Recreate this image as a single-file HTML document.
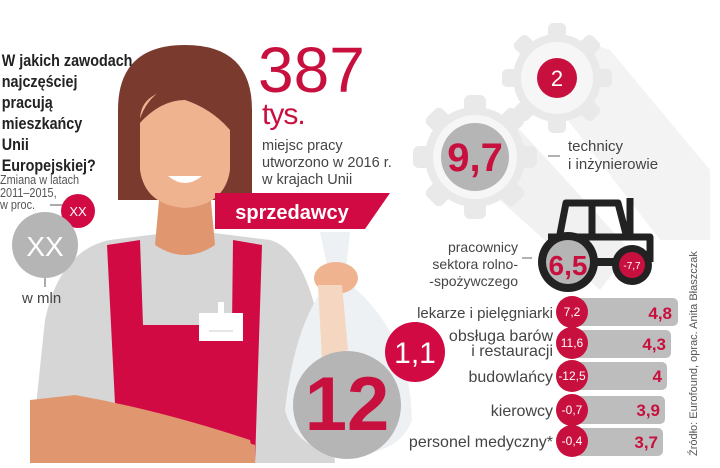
<!DOCTYPE html>
<html><head><meta charset="utf-8"><style>
body{margin:0;background:#fff}
svg text{font-family:"Liberation Sans",sans-serif}
</style></head><body>
<svg width="720" height="463" viewBox="0 0 720 463" xmlns="http://www.w3.org/2000/svg">
<!-- gear shadows -->
<polygon points="580,40 610,50 710,170 710,240 660,240 560,110" fill="#f3f3f3"/>
<polygon points="480,110 520,130 630,250 600,290 500,200" fill="#f1f1f1"/>
<!-- gear 1 -->
<g transform="translate(557,78)" fill="#e9e9e9">
<circle r="44"/>
<g id="t1"><rect x="-9" y="-55" width="18" height="16" rx="5"/></g>
<use href="#t1" transform="rotate(45)"/><use href="#t1" transform="rotate(90)"/><use href="#t1" transform="rotate(135)"/><use href="#t1" transform="rotate(180)"/><use href="#t1" transform="rotate(225)"/><use href="#t1" transform="rotate(270)"/><use href="#t1" transform="rotate(315)"/>
<circle r="36" fill="#f6f6f6"/>
<circle r="20" fill="#c8103e"/>
<text y="8" text-anchor="middle" font-size="22" fill="#fff">2</text>
</g>
<!-- gear 2 -->
<g transform="translate(475,157)" fill="#e9e9e9">
<circle r="50"/>
<g id="t2"><rect x="-11" y="-62" width="22" height="18" rx="6"/></g>
<use href="#t2" transform="rotate(45)"/><use href="#t2" transform="rotate(90)"/><use href="#t2" transform="rotate(135)"/><use href="#t2" transform="rotate(180)"/><use href="#t2" transform="rotate(225)"/><use href="#t2" transform="rotate(270)"/><use href="#t2" transform="rotate(315)"/>
<circle r="42" fill="#f6f6f6"/>
<circle r="34" fill="#b5b5b5"/>
<text y="14" text-anchor="middle" font-size="40" font-weight="bold" fill="#c8103e">9,7</text>
</g>
<line x1="548" y1="156" x2="560" y2="156" stroke="#666"/>
<text x="568" y="151" font-size="15" fill="#444">technicy</text>
<text x="568" y="169" font-size="15" fill="#444">i inżynierowie</text>
<!-- tractor -->
<g fill="none" stroke="#222" stroke-width="7" stroke-linejoin="round">
<path d="M560,234 L566,203 L618,203 L626,234"/>
<line x1="592" y1="203" x2="592" y2="234"/>
<line x1="630" y1="198" x2="630" y2="234"/>
<path d="M548,237 L650,237 L650,262"/>
</g>
<rect x="548" y="234" width="104" height="6" fill="#222"/>
<circle cx="568" cy="262" r="30" fill="#222"/>
<circle cx="568" cy="262" r="22" fill="#b5b5b5"/>
<text x="568" y="275" text-anchor="middle" font-size="28" font-weight="bold" fill="#c8103e">6,5</text>
<rect x="590" y="258" width="30" height="8" fill="#222"/>
<circle cx="632" cy="265" r="20" fill="#222"/>
<circle cx="632" cy="265" r="13" fill="#c8103e"/>
<text x="632" y="269" text-anchor="middle" font-size="10" fill="#fff">-7,7</text>
<line x1="522" y1="258" x2="532" y2="258" stroke="#666"/>
<text text-anchor="end" font-size="14" fill="#444"><tspan x="518" y="252">pracownicy</tspan><tspan x="518" y="269">sektora rolno-</tspan><tspan x="518" y="286">-spożywczego</tspan></text>
<!-- rows -->
<g font-size="15" fill="#444" text-anchor="end">
<rect x="575" y="298" width="103" height="28" rx="5" fill="#bdbdbd"/>
<rect x="575" y="330" width="96" height="28" rx="5" fill="#bdbdbd"/>
<rect x="575" y="362" width="92" height="28" rx="5" fill="#bdbdbd"/>
<rect x="575" y="396" width="90" height="28" rx="5" fill="#bdbdbd"/>
<rect x="575" y="428" width="88" height="28" rx="5" fill="#bdbdbd"/>
<circle cx="572" cy="312" r="16" fill="#c8103e"/>
<circle cx="572" cy="343" r="16" fill="#c8103e"/>
<circle cx="572" cy="376" r="16" fill="#c8103e"/>
<circle cx="572" cy="410" r="16" fill="#c8103e"/>
<circle cx="572" cy="441" r="16" fill="#c8103e"/>
<text x="553" y="318">lekarze i pielęgniarki</text>
<text x="553" y="341" font-size="16">obsługa barów</text>
<text x="553" y="356" font-size="16">i restauracji</text>
<text x="553" y="382" font-size="16">budowlańcy</text>
<text x="553" y="416" font-size="16">kierowcy</text>
<text x="553" y="447" font-size="16">personel medyczny*</text>
<g font-size="12" fill="#fff" text-anchor="middle">
<text x="572" y="316">7,2</text><text x="572" y="347">11,6</text><text x="572" y="380">-12,5</text><text x="572" y="414">-0,7</text><text x="572" y="445">-0,4</text>
</g>
<g font-size="17" font-weight="bold" fill="#c8103e">
<text x="672" y="319">4,8</text><text x="666" y="350">4,3</text><text x="662" y="382">4</text><text x="660" y="416">3,9</text><text x="658" y="448">3,7</text>
</g>
</g>
<text transform="translate(697,456) rotate(-90)" font-size="11" fill="#555">Źródło: Eurofound, oprac. Anita Błaszczak</text>

<!-- woman -->
<path d="M30,463 L45,320 Q60,250 110,240 L190,230 L270,240 Q305,250 320,330 L335,463 Z" fill="#d6d6d6"/>
<path d="M118,200 L118,110 Q118,45 185,45 Q252,45 252,110 L252,200 Z" fill="#7a3a2e"/>
<path d="M160,190 L210,190 L215,245 Q185,265 155,245 Z" fill="#e0966e"/>
<path d="M140,120 Q140,90 185,88 Q230,90 230,120 L230,170 Q225,205 185,208 Q145,205 140,170 Z" fill="#efb38f"/>
<path d="M138,125 Q150,80 200,82 Q238,90 234,135 Q215,110 185,100 Q160,100 138,125 Z" fill="#7a3a2e"/>
<path d="M168,176 Q185,190 202,176 Z" fill="#fff"/>
<path d="M107,245 L140,240 L143,325 L232,325 L233,240 L262,245 L255,463 L118,463 Z" fill="#d10a44"/>
<rect x="199" y="313" width="44" height="28" fill="#fff"/>
<rect x="218" y="302" width="6" height="12" fill="#fff"/>
<line x1="209" y1="331" x2="233" y2="331" stroke="#ccc"/>
<path d="M30,400 L75,395 Q160,410 250,440 L255,463 L30,463 Z" fill="#e0966e"/>
<path d="M170,445 Q210,430 255,445 L255,463 L170,463 Z" fill="#e0966e"/>
<!-- bag -->
<path d="M320,232 L350,232 L345,280 Q410,330 412,420 Q400,455 345,455 Q295,450 285,410 Q295,320 330,280 Z" fill="#eef1f4"/>
<ellipse cx="336" cy="278" rx="22" ry="16" fill="#efb38f"/>
<path d="M318,285 L342,285 L348,350 L322,360 Z" fill="#f5d6c0"/>
<circle cx="347" cy="405" r="54" fill="#b5b5b5"/>
<text x="347" y="430" text-anchor="middle" font-size="76" font-weight="bold" fill="#c8103e">12</text>
<circle cx="415" cy="352" r="30" fill="#d10a44"/>
<text x="415" y="363" text-anchor="middle" font-size="30" fill="#fff">1,1</text>
<!-- banner -->
<polygon points="215,193 390,193 365,229 215,229" fill="#d10a44"/>
<text x="292" y="219" text-anchor="middle" font-size="20" font-weight="bold" fill="#fff">sprzedawcy</text>
<!-- 387 -->
<text x="258" y="92" font-size="64" fill="#c8103e">387</text>
<text x="262" y="124" font-size="30" fill="#c8103e" letter-spacing="-1">tys.</text>
<text font-size="14.5" fill="#444"><tspan x="262" y="150">miejsc pracy</tspan><tspan x="262" y="167">utworzono w 2016 r.</tspan><tspan x="262" y="184">w krajach Unii</tspan></text>
<!-- left text -->
<g transform="scale(0.87,1)">
<text font-size="16.5" font-weight="bold" fill="#222"><tspan x="2" y="66">W jakich zawodach</tspan><tspan x="2" y="87">najczęściej</tspan><tspan x="2" y="108">pracują</tspan><tspan x="2" y="129">mieszkańcy</tspan><tspan x="2" y="150">Unii</tspan><tspan x="2" y="171">Europejskiej?</tspan></text>
<text font-size="12.5" fill="#555"><tspan x="0" y="184">Zmiana w latach</tspan><tspan x="0" y="197">2011–2015,</tspan><tspan x="0" y="209">w proc.</tspan></text>
</g>
<line x1="50" y1="205" x2="62" y2="205" stroke="#555"/>
<circle cx="78" cy="211" r="17" fill="#d10a44"/>
<text x="78" y="216" text-anchor="middle" font-size="13" fill="#fff">XX</text>
<circle cx="45" cy="245" r="33" fill="#b5b5b5"/>
<text x="45" y="256" text-anchor="middle" font-size="28" fill="#fff">XX</text>
<line x1="45" y1="278" x2="45" y2="287" stroke="#555"/>
<text x="22" y="303" font-size="15" fill="#444">w mln</text>
</svg>
</body></html>
